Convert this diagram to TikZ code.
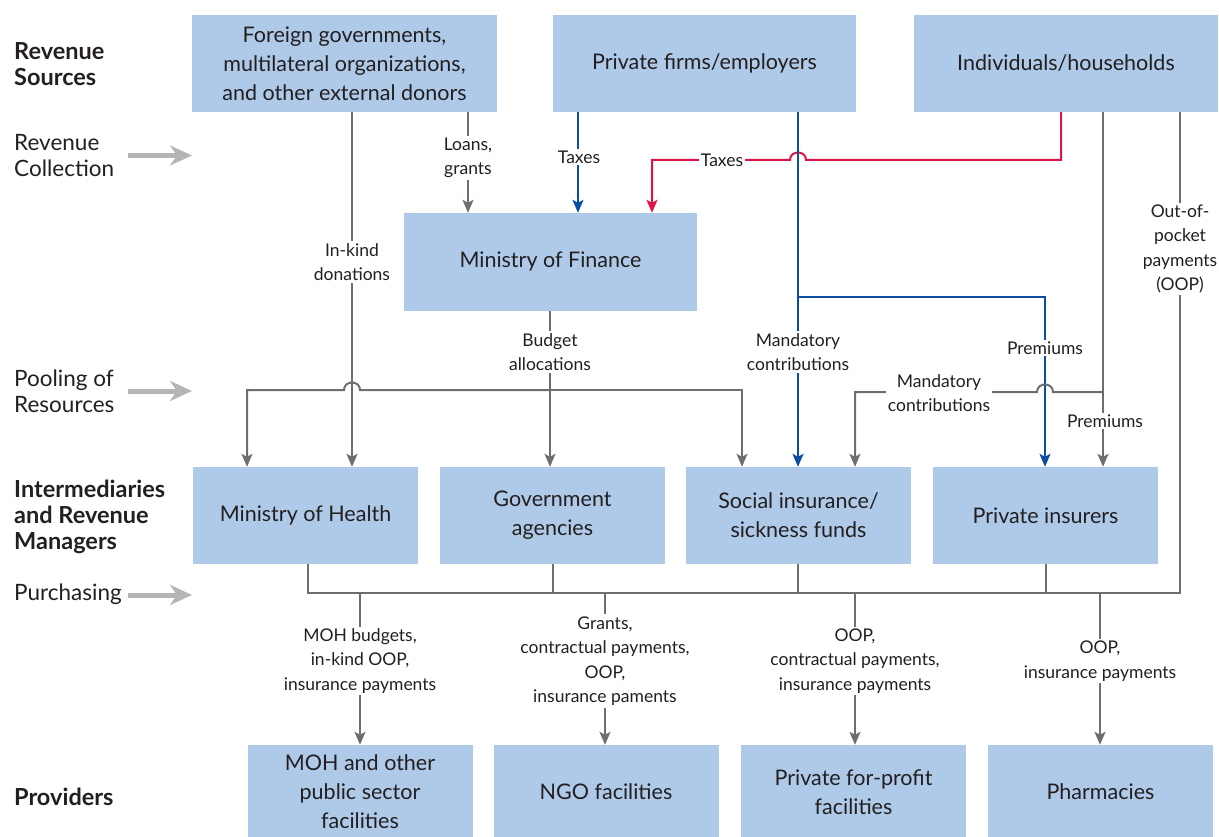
\documentclass[tikz,border=0pt]{standalone}
\usepackage{fontspec}
\setmainfont{Lato}
\usetikzlibrary{arrows.meta,calc}
\definecolor{boxblue}{HTML}{AFCAE8}
\definecolor{lineg}{HTML}{6D6E71}
\definecolor{lineb}{HTML}{0B4EA0}
\definecolor{liner}{HTML}{DC1448}
\definecolor{stageg}{HTML}{B5B5B5}
\definecolor{txt}{HTML}{231F20}
\begin{document}
\begin{tikzpicture}[x=1pt,y=-1pt,
  box/.style={fill=boxblue, draw=none, minimum width=#1, align=center,
    font=\fontsize{21.5}{29}\selectfont, text=txt, inner sep=0pt},
  tipg/.style={-{Stealth[length=13pt,width=11pt,inset=3pt]}},
  gline/.style={draw=lineg, line width=2pt},
  garr/.style={gline, tipg},
  barr/.style={draw=lineb, line width=2pt, tipg},
  rarr/.style={draw=liner, line width=2pt, tipg},
  lbl/.style={fill=white, inner sep=2pt, align=center, text=txt,
    font=\fontsize{17.5}{24.5}\selectfont},
  stage/.style={anchor=west, align=left, text=txt, inner sep=0pt,
    font=\fontsize{22.5}{26}\selectfont},
  stageb/.style={stage, font=\fontsize{23.5}{26}\selectfont\bfseries},
  stagearrow/.style={draw=stageg, line width=5pt,
    -{Stealth[length=22pt,width=20pt,inset=7pt]}}
]
\useasboundingbox (0,0) rectangle (1219,837);

% column coordinates
\foreach \xx in {247,308,352,360,468,550,553,578,605,652,742,798,855,1045,1046,1061,1100,1103,1180}
  \coordinate (c\xx) at (\xx,0);

% boxes
\node[box=305pt, minimum height=97pt] (foreign) at (344.5,63.5)
  {Foreign governments,\\ multilateral organizations,\\ and other external donors};
\node[box=303pt, minimum height=97pt] (firms) at (704.5,63.5) {Private firms/employers};
\node[box=304pt, minimum height=97pt] (indiv) at (1066,63.5) {Individuals/households};
\node[box=293pt, minimum height=98pt] (mof) at (550.5,262) {Ministry of Finance};
\node[box=225pt, minimum height=97pt] (moh) at (305.5,515.5) {Ministry of Health};
\node[box=225pt, minimum height=97pt] (gov) at (552.5,515.5) {Government\\ agencies};
\node[box=225pt, minimum height=97pt] (sif) at (798.5,515.5) {Social insurance/\\ sickness funds};
\node[box=225pt, minimum height=97pt] (pins) at (1045.5,515.5) {Private insurers};
\node[box=225pt, minimum height=94pt] (f1) at (360,792) {MOH and other\\ public sector\\ facilities};
\node[box=225pt, minimum height=94pt] (f2) at (606,792) {NGO facilities};
\node[box=225pt, minimum height=94pt] (f3) at (853.5,792) {Private for-profit\\ facilities};
\node[box=225pt, minimum height=94pt] (f4) at (1100.5,792) {Pharmacies};

% stage labels
\node[stageb] (s1) at (14,64.5) {Revenue\\ Sources};
\node[stage] (s2) at (14,155.5) {Revenue\\ Collection};
\node[stage] (s3) at (14,391) {Pooling of\\ Resources};
\node[stageb] (s4) at (14,517) {Intermediaries\\ and Revenue\\ Managers};
\node[stage] (s5) at (14,594) {Purchasing};
\node[stageb] (s6) at (14,797) {Providers};
\coordinate (a2s) at (128,155.5); \coordinate (a2e) at (192,155.5);
\coordinate (a3s) at (128,391); \coordinate (a3e) at (192,391);
\coordinate (a5s) at (128,595); \coordinate (a5e) at (192,595);
\draw[stagearrow] (a2s) -- (a2e);
\draw[stagearrow] (a3s) -- (a3e);
\draw[stagearrow] (a5s) -- (a5e);

% revenue collection
\draw[garr] (foreign.south -| c468) -- (mof.north -| c468);
\draw[barr] (firms.south -| c578) -- (mof.north -| c578);
\draw[rarr] (indiv.south -| c1061) -- (1061,160) -- (806,160)
  .. controls (806,150) and (790,150) .. (790,160) -- (652,160) -- (mof.north -| c652);
\draw[barr] (firms.south -| c798) -- (sif.north -| c798);
\draw[barr] (798,297) -| (pins.north -| c1045);

% pooling
\draw[garr] (foreign.south -| c352) -- (moh.north -| c352);
\draw[garr] (mof.south -| c550) -- (gov.north -| c550);
\draw[garr] (550,390) -- (360,390) .. controls (360,380) and (344,380) .. (344,390)
  -- (247,390) -- (moh.north -| c247);
\draw[garr] (550,390) -| (sif.north -| c742);
\draw[garr] (indiv.south -| c1103) -- (pins.north -| c1103);
\draw[garr] (1103,392) -- (1053,392) .. controls (1053,382) and (1037,382) .. (1037,392)
  -- (855,392) -- (sif.north -| c855);

% purchasing
\draw[gline] (indiv.south -| c1180) -- (1180,593) -- (308,593) -- (moh.south -| c308);
\draw[gline] (gov.south -| c553) -- (553,593);
\draw[gline] (sif.south -| c798) -- (798,593);
\draw[gline] (pins.south -| c1046) -- (1046,593);
\draw[garr] (360,593) -- (f1.north -| c360);
\draw[garr] (605,593) -- (f2.north -| c605);
\draw[garr] (855,593) -- (f3.north -| c855);
\draw[garr] (1100,593) -- (f4.north -| c1100);

% labels
\node[lbl] (l1) at (468,158) {Loans,\\ grants};
\node[lbl] (l2) at (579,157) {Taxes};
\node[lbl] (l3) at (722,160) {Taxes};
\node[lbl] (l4) at (352,262) {In-kind\\ donations};
\node[lbl] (l5) at (550,352) {Budget\\ allocations};
\node[lbl] (l6) at (798,352) {Mandatory\\ contributions};
\node[lbl] (l7) at (1045,348) {Premiums};
\node[lbl] (l8) at (939,393) {Mandatory\\ contributions};
\node[lbl] (l9) at (1105,421) {Premiums};
\node[lbl] (l10) at (1180,249) {Out-of-\\ pocket\\ payments\\ (OOP)};
\node[lbl] (l11) at (360,661) {MOH budgets,\\ in-kind OOP,\\ insurance payments};
\node[lbl] (l12) at (605,661) {Grants,\\ contractual payments,\\ OOP,\\ insurance paments};
\node[lbl] (l13) at (855,661) {OOP,\\ contractual payments,\\ insurance payments};
\node[lbl] (l14) at (1100,661) {OOP,\\ insurance payments};
\end{tikzpicture}
\end{document}
